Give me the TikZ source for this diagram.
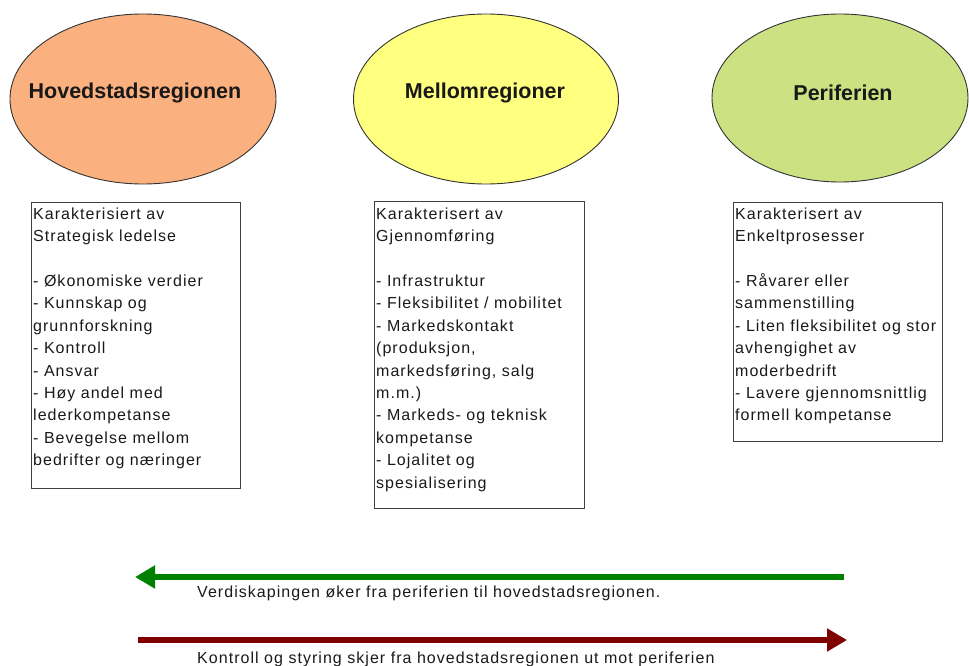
\documentclass[tikz,border=0pt]{standalone}
\usepackage{fontspec}
\setmainfont{Liberation Sans}
\newfontfamily\bodyfont[LetterSpace=6.5]{Liberation Sans}
\usetikzlibrary{shapes.geometric,arrows.meta}
\definecolor{orangefill}{RGB}{251,176,127}
\definecolor{yellowfill}{RGB}{255,255,128}
\definecolor{greenfill}{RGB}{204,225,130}
\definecolor{arrowgreen}{RGB}{0,128,0}
\definecolor{arrowred}{RGB}{128,0,0}
\definecolor{edgegray}{RGB}{64,64,64}
\tikzset{
  region/.style={ellipse, draw=black!80, line width=0.9pt, inner sep=0pt},
  regiontext/.style={font=\fontsize{21.5}{24}\selectfont\bfseries, text=black!90, inner sep=0pt},
  charbox/.style={draw=edgegray, line width=1.2pt, anchor=north west, inner sep=0pt},
  chartext/.style={font=\bodyfont\fontsize{16}{22.4}\selectfont, align=left, anchor=north west, inner sep=0pt, text=black!90},
  flowtext/.style={font=\bodyfont\fontsize{16}{20}\selectfont, anchor=base west, inner sep=0pt, text=black!90},
  flowarrow/.style={line width=6pt, -{Triangle[length=20pt,width=22pt]}}
}
\begin{document}
\begin{tikzpicture}[x=1pt,y=-1pt]
\useasboundingbox (0,0) rectangle (969,666);
% ellipses
\node[region, fill=orangefill, minimum width=266pt, minimum height=170pt] (e1) at (143,99) {};
\node[region, fill=yellowfill, minimum width=265pt, minimum height=170pt] (e2) at (486,99) {};
\node[region, fill=greenfill, minimum width=256pt, minimum height=168pt] (e3) at (840,98) {};
\node[regiontext] (t1) at (135,93) {Hovedstadsregionen};
\node[regiontext] (t2) at (485,93) {Mellomregioner};
\node[regiontext] (t3) at (843,93) {Periferien};
% boxes
\node[charbox, minimum width=209pt, minimum height=286pt] (b1) at (31,202) {};
\node[charbox, minimum width=210pt, minimum height=307pt] (b2) at (374,201) {};
\node[charbox, minimum width=209pt, minimum height=239pt] (b3) at (733,202) {};
\node[chartext] (c1) at (33,207.5) {Karakterisiert av\\ Strategisk ledelse\\[22.4pt]
- Økonomiske verdier\\ - Kunnskap og\\ grunnforskning\\ - Kontroll\\ - Ansvar\\
- Høy andel med\\ lederkompetanse\\ - Bevegelse mellom\\ bedrifter og næringer};
\node[chartext] (c2) at (376,207.5) {Karakterisert av\\ Gjennomføring\\[22.4pt]
- Infrastruktur\\ - Fleksibilitet / mobilitet\\ - Markedskontakt\\ (produksjon,\\
markedsføring, salg\\ m.m.)\\ - Markeds- og teknisk\\ kompetanse\\ - Lojalitet og\\ spesialisering};
\node[chartext] (c3) at (735,207.5) {Karakterisert av\\ Enkeltprosesser\\[22.4pt]
- Råvarer eller\\ sammenstilling\\ - Liten fleksibilitet og stor\\ avhengighet av\\
moderbedrift\\ - Lavere gjennomsnittlig\\ formell kompetanse};
% arrows
\coordinate (gs) at (844,577);
\coordinate (ge) at (135,577);
\coordinate (rs) at (138,640);
\coordinate (re) at (847,640);
\draw[flowarrow, arrowgreen] (gs) -- (ge);
\draw[flowarrow, arrowred] (rs) -- (re);
\node[flowtext] (l1) at (197,597.5) {Verdiskapingen øker fra periferien til hovedstadsregionen.};
\node[flowtext] (l2) at (197,663.5) {Kontroll og styring skjer fra hovedstadsregionen ut mot periferien};
\end{tikzpicture}
\end{document}
